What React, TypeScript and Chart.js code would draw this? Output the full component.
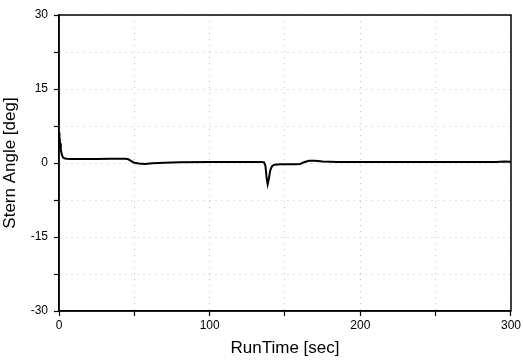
import React, { useEffect, useRef } from "react";
import { Chart, registerables } from "chart.js";

Chart.register(...registerables);

const times = [0, 0.3, 0.7, 1.2, 1.8, 2.5, 3.5, 5, 8, 15, 25, 35, 44, 46, 48, 50, 53, 57, 62, 70, 80, 100, 120, 134, 136, 137, 137.8, 138.5, 139.3, 140.2, 141.5, 143, 147, 152, 157, 160, 163, 166, 170, 175, 185, 200, 230, 260, 290, 296, 300];
const angles = [6.2, 5.4, 4.0, 2.7, 1.8, 1.2, 0.95, 0.85, 0.8, 0.8, 0.82, 0.85, 0.85, 0.75, 0.4, 0.05, -0.1, -0.2, -0.05, 0.05, 0.15, 0.2, 0.2, 0.2, 0.15, -0.5, -3, -4.3, -3.2, -1.5, -0.6, -0.35, -0.25, -0.25, -0.25, -0.2, 0.2, 0.45, 0.45, 0.3, 0.2, 0.2, 0.2, 0.2, 0.2, 0.3, 0.25];

const xTicks = [0, 100, 200, 300];
const yTicks = [-30, -15, 0, 15, 30];

const FONT = "Liberation Sans, Arial, Helvetica, sans-serif";

const framePlugin = {
  id: "frame",
  afterDraw(chart: any) {
    const { ctx, chartArea } = chart;
    ctx.save();
    ctx.strokeStyle = "#000";
    ctx.lineWidth = 1.5;
    ctx.strokeRect(chartArea.left, chartArea.top, chartArea.right - chartArea.left, chartArea.bottom - chartArea.top);
    ctx.restore();
  },
};

export default function App() {
  const ref = useRef<HTMLCanvasElement>(null);
  useEffect(() => {
    document.body.style.margin = "0";
    const chart = new Chart(ref.current!, {
      type: "line",
      data: {
        datasets: [
          {
            data: times.map((t, i) => ({ x: t, y: angles[i] })),
            borderColor: "#000",
            borderWidth: 2,
            pointRadius: 0,
            tension: 0,
            fill: false,
          },
        ],
      },
      options: {
        animation: false,
        responsive: false,
        maintainAspectRatio: false,
        layout: { padding: { top: 15, right: 12, left: 0, bottom: 0 } },
        plugins: { legend: { display: false }, tooltip: { enabled: false } },
        scales: {
          x: {
            type: "linear",
            min: 0,
            max: 300,
            afterFit: (s: any) => { s.height = 52; },
            ticks: {
              stepSize: 50,
              color: "#000",
              font: { family: FONT, size: 12 },
              maxRotation: 0,
              padding: 2,
              callback: (v: any) => (xTicks.includes(v) ? String(v) : ""),
            },
            grid: {
              color: "rgba(150,150,150,0.6)",
              lineWidth: 1,
              tickColor: "#000",
              tickLength: 5,
              tickWidth: 1.2,
            },
            border: { color: "#000", width: 1.5, dash: [1, 5] },
            title: {
              display: true,
              text: "RunTime [sec]",
              color: "#000",
              font: { family: FONT, size: 17 },
              padding: { top: 0, bottom: 4 },
            },
          },
          y: {
            type: "linear",
            min: -30,
            max: 30,
            afterFit: (s: any) => { s.width = 59; },
            ticks: {
              stepSize: 7.5,
              color: "#000",
              font: { family: FONT, size: 12 },
              padding: 6,
              callback: (v: any) => (yTicks.includes(v) ? String(v) : ""),
            },
            grid: {
              color: "rgba(150,150,150,0.6)",
              lineWidth: 1,
              tickColor: "#000",
              tickLength: 5,
              tickWidth: 1.2,
            },
            border: { color: "#000", width: 1.5, dash: [1, 5] },
            title: {
              display: true,
              text: "Stern Angle [deg]",
              color: "#000",
              font: { family: FONT, size: 17 },
              padding: { top: 0, bottom: 0 },
            },
          },
        },
      },
      plugins: [framePlugin],
    } as any);
    return () => chart.destroy();
  }, []);
  return (
    <div style={{ width: 523, height: 363 }}>
      <canvas ref={ref} width={523} height={363} />
    </div>
  );
}
